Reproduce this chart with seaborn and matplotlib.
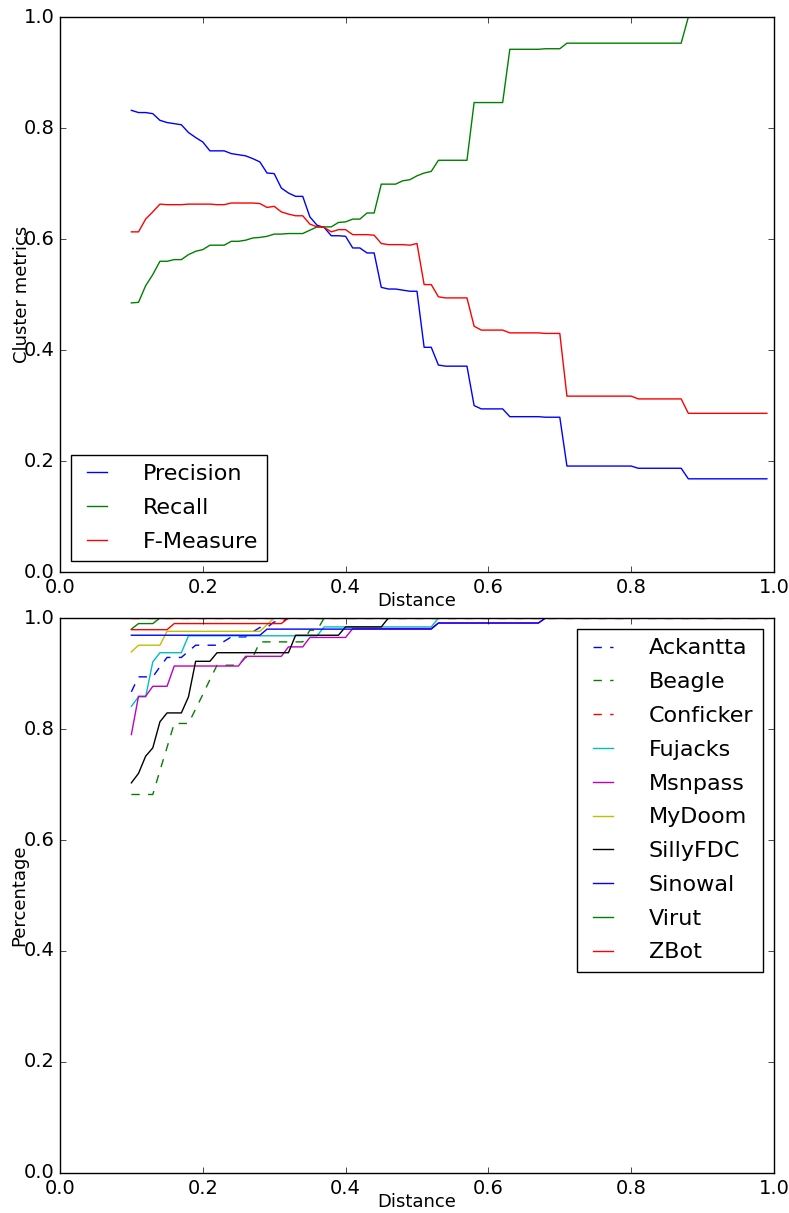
import numpy as np
import pandas as pd
import seaborn as sns
import matplotlib
matplotlib.use("Agg")
import matplotlib.pyplot as plt

# distance thresholds 0.10 .. 0.99
distance = np.round(np.arange(10, 100) / 100.0, 2)

precision = [
    0.832, 0.828, 0.828, 0.826, 0.814, 0.810, 0.808, 0.806, 0.792, 0.783,
    0.775, 0.759, 0.759, 0.759, 0.754, 0.752, 0.750, 0.745, 0.739, 0.719,
    0.718, 0.692, 0.683, 0.677, 0.677, 0.640, 0.625, 0.621, 0.606, 0.606,
    0.605, 0.584, 0.584, 0.575, 0.575, 0.513, 0.510, 0.510, 0.508, 0.506,
    0.506, 0.405, 0.405, 0.373, 0.371, 0.371, 0.371, 0.371, 0.300, 0.294,
    0.294, 0.294, 0.294, 0.280, 0.280, 0.280, 0.280, 0.280, 0.279, 0.279,
    0.279, 0.191, 0.191, 0.191, 0.191, 0.191, 0.191, 0.191, 0.191, 0.191,
    0.191, 0.187, 0.187, 0.187, 0.187, 0.187, 0.187, 0.187, 0.168, 0.168,
    0.168, 0.168, 0.168, 0.168, 0.168, 0.168, 0.168, 0.168, 0.168, 0.168,
]
recall = [
    0.485, 0.486, 0.516, 0.536, 0.560, 0.560, 0.563, 0.563, 0.572, 0.578,
    0.581, 0.589, 0.589, 0.589, 0.596, 0.596, 0.598, 0.602, 0.603, 0.605,
    0.609, 0.609, 0.610, 0.610, 0.610, 0.616, 0.622, 0.622, 0.622, 0.630,
    0.631, 0.636, 0.636, 0.647, 0.647, 0.699, 0.699, 0.699, 0.705, 0.707,
    0.714, 0.719, 0.722, 0.742, 0.742, 0.742, 0.742, 0.742, 0.846, 0.846,
    0.846, 0.846, 0.846, 0.942, 0.942, 0.942, 0.942, 0.942, 0.943, 0.943,
    0.943, 0.953, 0.953, 0.953, 0.953, 0.953, 0.953, 0.953, 0.953, 0.953,
    0.953, 0.953, 0.953, 0.953, 0.953, 0.953, 0.953, 0.953, 1.0, 1.0,
    1.0, 1.0, 1.0, 1.0, 1.0, 1.0, 1.0, 1.0, 1.0, 1.0,
]
f_measure = [
    0.613, 0.613, 0.636, 0.649, 0.663, 0.662, 0.662, 0.662, 0.663, 0.663,
    0.663, 0.663, 0.662, 0.662, 0.665, 0.665, 0.665, 0.665, 0.664, 0.657,
    0.659, 0.649, 0.645, 0.642, 0.642, 0.627, 0.622, 0.621, 0.613, 0.617,
    0.617, 0.608, 0.608, 0.608, 0.607, 0.592, 0.590, 0.590, 0.590, 0.589,
    0.592, 0.518, 0.518, 0.496, 0.494, 0.494, 0.494, 0.494, 0.443, 0.436,
    0.436, 0.436, 0.436, 0.431, 0.431, 0.431, 0.431, 0.431, 0.430, 0.430,
    0.430, 0.317, 0.317, 0.317, 0.317, 0.317, 0.317, 0.317, 0.317, 0.317,
    0.317, 0.312, 0.312, 0.312, 0.312, 0.312, 0.312, 0.312, 0.286, 0.286,
    0.286, 0.286, 0.286, 0.286, 0.286, 0.286, 0.286, 0.286, 0.286, 0.286,
]

ones = [1.0] * 10  # a row of 10 points sitting on 100%

ackantta = [
    0.867, 0.894, 0.894, 0.894, 0.912, 0.929, 0.929, 0.929, 0.940, 0.951,
    0.951, 0.951, 0.951, 0.958, 0.966, 0.966, 0.966, 0.975, 0.983, 0.983,
    0.993, 0.993, 1.0, 1.0, 1.0, 1.0, 1.0, 1.0, 1.0, 1.0,
] + ones * 6
beagle = [
    0.682, 0.682, 0.682, 0.682, 0.725, 0.767, 0.810, 0.810, 0.810, 0.836,
    0.862, 0.889, 0.915, 0.915, 0.915, 0.915, 0.929, 0.929, 0.957, 0.957,
    0.957, 0.957, 0.957, 0.957, 0.957, 0.978, 0.978, 1.0, 1.0, 1.0,
] + ones * 6
conficker = ones * 9
fujacks = [
    0.841, 0.858, 0.858, 0.921, 0.9375, 0.9375, 0.9375, 0.9375, 0.968, 0.968,
    0.968, 0.968, 0.968, 0.968, 0.968, 0.968, 0.968, 0.968, 0.968, 0.968,
    0.968, 0.968, 0.968, 0.968, 0.968, 0.968, 0.968, 0.984, 0.984, 0.984,
    0.984, 0.984, 0.984, 0.984, 0.984, 0.984, 0.984, 0.984, 0.984, 0.984,
    0.984, 0.984, 0.984, 1.0, 1.0, 1.0, 1.0, 1.0, 1.0, 1.0,
] + ones * 4
msnpass = [
    0.790, 0.859, 0.859, 0.877, 0.877, 0.877, 0.9135, 0.9135, 0.9135, 0.9135,
    0.9135, 0.9135, 0.9135, 0.9135, 0.9135, 0.9135, 0.931, 0.931, 0.931, 0.931,
    0.931, 0.931, 0.948, 0.948, 0.948, 0.965, 0.965, 0.965, 0.965, 0.965,
    0.965, 0.981, 0.981, 0.981, 0.981, 0.981, 0.981, 0.981, 0.981, 0.981,
    0.981, 0.981, 0.981, 0.991, 0.991, 0.991, 0.991, 0.991, 0.991, 0.991,
    0.991, 0.991, 0.991, 0.991, 0.991, 0.991, 0.991, 0.991, 1.0, 1.0,
] + ones * 3
mydoom = [
    0.939, 0.951, 0.951, 0.951, 0.951, 0.976, 0.976, 0.976, 0.976, 0.976,
    0.976, 0.976, 0.976, 0.976, 0.976, 0.976, 0.976, 0.976, 0.976, 0.988,
] + ones * 7
sillyfdc = [
    0.703, 0.720, 0.751, 0.766, 0.813, 0.829, 0.829, 0.829, 0.858, 0.922,
    0.922, 0.922, 0.9375, 0.9375, 0.9375, 0.9375, 0.9375, 0.9375, 0.9375, 0.9375,
    0.9375, 0.9375, 0.9375, 0.969, 0.969, 0.969, 0.969, 0.969, 0.969, 0.969,
    0.984, 0.984, 0.984, 0.984, 0.984, 0.984, 1.0, 1.0, 1.0, 1.0,
] + ones * 5
sinowal = [
    0.969, 0.969, 0.969, 0.969, 0.969, 0.969, 0.969, 0.969, 0.969, 0.969,
    0.969, 0.969, 0.969, 0.969, 0.969, 0.969, 0.969, 0.969, 0.969, 0.980,
    0.980, 0.980, 0.980, 0.980, 0.980, 0.980, 0.980, 0.980, 0.980, 0.980,
    0.980, 0.980, 0.980, 0.980, 0.980, 0.980, 0.980, 0.980, 0.980, 0.980,
    0.980, 0.980, 0.980, 0.991, 0.991, 0.991, 0.991, 0.991, 0.991, 0.991,
    0.991, 0.991, 0.991, 0.991, 0.991, 0.991, 0.991, 0.991, 1.0, 1.0,
] + ones * 3
virut = [0.980, 0.990, 0.990, 0.990, 1.0, 1.0, 1.0, 1.0, 1.0, 1.0] + ones * 8
zbot = [
    0.979, 0.979, 0.979, 0.979, 0.979, 0.979, 0.990, 0.990, 0.990, 0.990,
    0.990, 0.990, 0.990, 0.990, 0.990, 0.990, 0.990, 0.990, 0.990, 0.990,
    0.990, 0.990, 1.0, 1.0, 1.0, 1.0, 1.0, 1.0, 1.0, 1.0,
] + ones * 6

metrics = {"Precision": precision, "Recall": recall, "F-Measure": f_measure}
metric_colors = ["b", "g", "r"]

families = {
    "Ackantta": ackantta, "Beagle": beagle, "Conficker": conficker,
    "Fujacks": fujacks, "Msnpass": msnpass, "MyDoom": mydoom,
    "SillyFDC": sillyfdc, "Sinowal": sinowal, "Virut": virut, "ZBot": zbot,
}
family_styles = [("b", "--"), ("g", "--"), ("r", "--"), ("c", "-"), ("m", "-"),
                 ("y", "-"), ("k", "-"), ("b", "-"), ("g", "-"), ("r", "-")]

df_metrics = pd.DataFrame(metrics)
df_metrics["Distance"] = distance
df_families = pd.DataFrame(families)
df_families["Distance"] = distance

plt.style.use("classic")
plt.rcParams["figure.facecolor"] = "white"
plt.rcParams["savefig.facecolor"] = "white"
plt.rcParams["font.family"] = ["DejaVu Sans"]

fig = plt.figure(figsize=(7.89, 12.13), dpi=100)
ax1 = fig.add_axes([0.076, 0.5284, 0.905, 0.4575])
ax2 = fig.add_axes([0.076, 0.033, 0.905, 0.4575])

for (name, col) in zip(metrics, metric_colors):
    sns.lineplot(data=df_metrics, x="Distance", y=name, color=col, label=name,
                 linewidth=1.0, errorbar=None, ax=ax1)

for (name, (col, ls)) in zip(families, family_styles):
    sns.lineplot(data=df_families, x="Distance", y=name, color=col, linestyle=ls,
                 label=name, linewidth=1.0, errorbar=None, ax=ax2)

for ax, ylab, lx in [(ax1, "Cluster metrics", -0.040), (ax2, "Percentage", -0.045)]:
    ax.set_xlim(0, 1)
    ax.set_ylim(0, 1)
    ax.set_xticks([0.0, 0.2, 0.4, 0.6, 0.8, 1.0])
    ax.set_yticks([0.0, 0.2, 0.4, 0.6, 0.8, 1.0])
    ax.tick_params(labelsize=14)
    ax.set_xlabel("Distance", fontsize=13, labelpad=-3)
    ax.set_ylabel(ylab, fontsize=13)
    ax.yaxis.set_label_coords(lx, 0.5)

leg_kw = dict(fontsize=16, handlelength=1.5, handletextpad=1.3, labelspacing=0.62,
              borderpad=0.42, borderaxespad=0.5, fancybox=False)
ax1.legend(loc="lower left", **leg_kw)
ax2.legend(loc="upper right", **leg_kw)

fig.savefig("out.png", dpi=100)
